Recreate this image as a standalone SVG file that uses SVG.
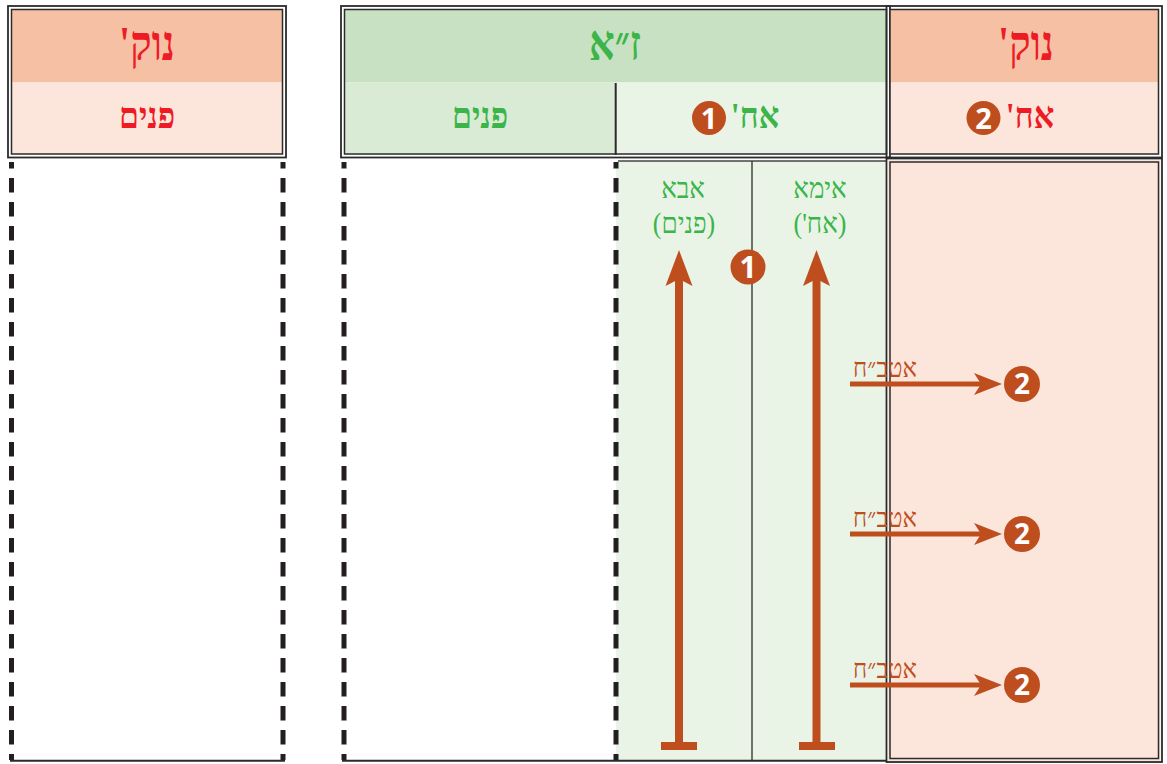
<svg xmlns="http://www.w3.org/2000/svg" width="1167" height="764" viewBox="0 0 1167 764">
<defs>
<style>
.ol{fill:none;stroke:#2b2b2b;stroke-width:1.8}
.il{fill:none;stroke:#2b2b2b;stroke-width:1.5}
.dash{stroke:#231f20;stroke-width:5;stroke-dasharray:14.5 9.5;stroke-dashoffset:8;fill:none}
.thin{stroke:#444;stroke-width:1.5;fill:none}
.hr{font-family:"Liberation Serif",serif;font-weight:bold;fill:#ed1c24;text-anchor:middle;direction:rtl}
.hg{font-family:"Liberation Serif",serif;font-weight:bold;fill:#3bb54a;text-anchor:middle;direction:rtl}
.lg{font-family:"Liberation Serif",serif;fill:#3bb54a;text-anchor:middle;direction:rtl;font-size:26px}
.lr{font-family:"Liberation Serif",serif;fill:#bf4e1f;text-anchor:middle;direction:rtl;font-size:24px}
.circ{fill:#bf4e1f}
.dig{font-family:"Open Sans","DejaVu Sans",sans-serif;font-weight:bold;fill:#fff;text-anchor:middle}
.rust{fill:#bf4e1f}
</style>
</defs>
<rect width="1167" height="764" fill="#fff"/>

<g id="nok-left-header">
<rect x="11.5" y="9.5" width="271" height="73" fill="#f6c0a5"/>
<rect x="11.5" y="82.5" width="271" height="72" fill="#fce6db"/>
<rect class="ol" x="8" y="6" width="278" height="151.5"/>
<rect class="il" x="11.5" y="9.5" width="271" height="144.5"/>
<text class="hr" transform="translate(147 60) scale(1 1.22)" font-size="40">נוק'</text>
<text class="hr" transform="translate(147 128) scale(1 1.15)" font-size="32">פנים</text>
</g>

<g id="nok-left-body">
<line class="dash" x1="11.5" y1="162" x2="11.5" y2="760"/>
<line class="dash" x1="283" y1="162" x2="283" y2="760"/>
<line x1="10" y1="760.8" x2="285" y2="760.8" stroke="#2b2b2b" stroke-width="2"/>
</g>

<g id="za-header">
<rect x="344.5" y="9.5" width="542" height="73" fill="#c8e1c3"/>
<rect x="344.5" y="82.5" width="271" height="72" fill="#d9ebd4"/>
<rect x="615.5" y="82.5" width="271" height="72" fill="#e9f4e7"/>
<line x1="615.7" y1="83" x2="615.7" y2="155" stroke="#2b2b2b" stroke-width="2"/>
<rect class="ol" x="341" y="6" width="549" height="151.5"/>
<rect class="il" x="344.5" y="9.5" width="542" height="144.5"/>
<text class="hg" transform="translate(615 60) scale(1 1.22)" font-size="40">ז״א</text>
<text class="hg" transform="translate(480 128) scale(1 1.15)" font-size="32">פנים</text>
<text class="hg" transform="translate(755 128) scale(1 1.15)" font-size="32">אח'</text>
<circle class="circ" cx="709" cy="118" r="17"/>
<text class="dig" x="709" y="128.5" font-size="29">1</text>
</g>

<g id="nok-right-header">
<rect x="890" y="9.5" width="268.5" height="73" fill="#f6c0a5"/>
<rect x="890" y="82.5" width="268.5" height="72" fill="#fce6db"/>
<rect class="ol" x="886.5" y="6" width="275.5" height="151.5"/>
<rect class="il" x="890" y="9.5" width="268.5" height="144.5"/>
<text class="hr" transform="translate(1026 60) scale(1 1.22)" font-size="40">נוק'</text>
<text class="hr" transform="translate(1030 128) scale(1 1.15)" font-size="32">אח'</text>
<circle class="circ" cx="983.5" cy="118" r="17"/>
<text class="dig" x="983.5" y="128.5" font-size="29">2</text>
</g>

<g id="za-body">
<rect x="616" y="161" width="270.5" height="600" fill="#e9f4e7"/>
<line class="thin" x1="618" y1="161" x2="886.5" y2="161"/>
<line class="thin" x1="752" y1="161" x2="752" y2="761"/>
<line class="dash" x1="344" y1="162" x2="344" y2="760"/>
<line class="dash" x1="616" y1="162" x2="616" y2="760"/>
<line x1="342" y1="760.8" x2="887" y2="760.8" stroke="#2b2b2b" stroke-width="2"/>
<text class="lg" transform="translate(683 198) scale(1 1.1)">אבא</text>
<text class="lg" transform="translate(684 233) scale(1 1.1)">(פנים)</text>
<text class="lg" transform="translate(820 198) scale(1 1.1)">אימא</text>
<text class="lg" transform="translate(820 233) scale(1 1.1)">(אח')</text>
<circle class="circ" cx="748" cy="267" r="17.5"/>
<text class="dig" x="748" y="277.5" font-size="30">1</text>
</g>

<g id="nok-right-body">
<rect x="888" y="160" width="272.5" height="601" fill="#fce6db"/>
<rect class="ol" x="886.5" y="158.5" width="275.5" height="603.5"/>
<rect class="il" x="890" y="162" width="268.5" height="596.5"/>
<circle class="circ" cx="1022" cy="384" r="18"/>
<text class="dig" x="1022" y="394" font-size="28">2</text>
<circle class="circ" cx="1022" cy="534" r="18"/>
<text class="dig" x="1022" y="544" font-size="28">2</text>
<circle class="circ" cx="1022" cy="685" r="18"/>
<text class="dig" x="1022" y="695" font-size="28">2</text>
</g>

<g id="connectors">
<rect class="rust" x="675" y="276" width="8" height="470"/>
<polygon class="rust" points="679,250 692.5,286 679,279 665.5,286"/>
<rect class="rust" x="661" y="742" width="36" height="8"/>
<rect class="rust" x="812.5" y="276" width="8" height="470"/>
<polygon class="rust" points="816.5,250 830,286 816.5,279 803,286"/>
<rect class="rust" x="799" y="742" width="36" height="8"/>

<rect class="rust" x="850" y="381.5" width="132" height="5"/>
<polygon class="rust" points="1002,384 974,373 981,384 974,395"/>
<text class="lr" transform="translate(885 377) scale(1 1.1)">אטב״ח</text>

<rect class="rust" x="850" y="531.5" width="132" height="5"/>
<polygon class="rust" points="1002,534 974,523 981,534 974,545"/>
<text class="lr" transform="translate(885 527) scale(1 1.1)">אטב״ח</text>

<rect class="rust" x="850" y="682.5" width="132" height="5"/>
<polygon class="rust" points="1002,685 974,674 981,685 974,696"/>
<text class="lr" transform="translate(885 678) scale(1 1.1)">אטב״ח</text>
</g>
</svg>
